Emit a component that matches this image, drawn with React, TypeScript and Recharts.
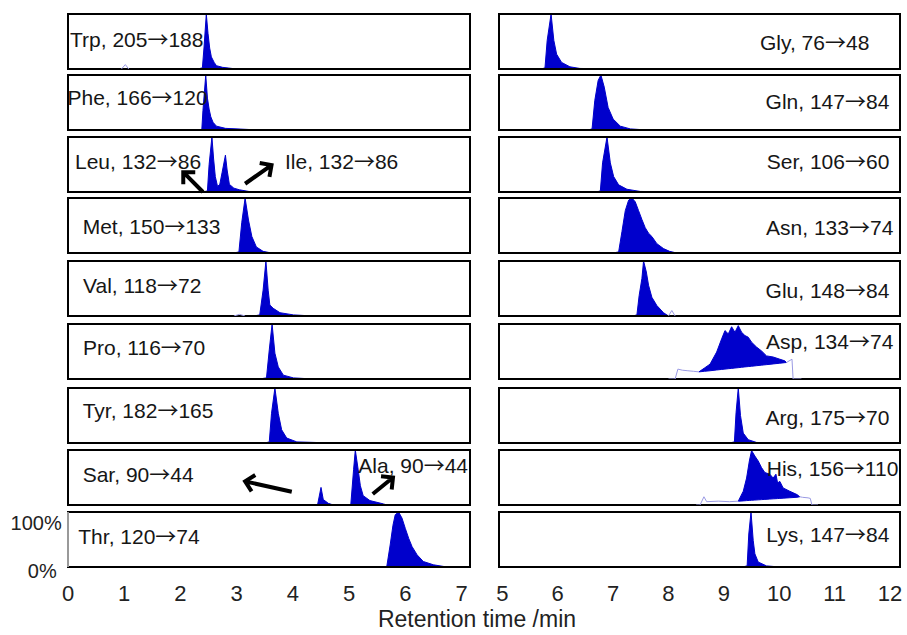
import React from 'react';
import { ComposedChart, Area, Line, XAxis, YAxis, ReferenceArea, ReferenceLine } from 'recharts';

type Pt = number[];

// ---------- left column (retention time 0–7 min), [time, % intensity] ----------
const trpPeak: Pt[] = [[2.30,0],[2.39,2],[2.42,40],[2.46,100],[2.49,65],[2.52,38],[2.55,22],[2.60,12],[2.64,6],[2.75,3],[3.00,0]];
const trpTrace: Pt[] = [[0.95,0],[1.02,8],[1.08,0]];
const phePeak: Pt[] = [[2.30,0],[2.38,1],[2.40,35],[2.45,100],[2.48,58],[2.51,38],[2.54,24],[2.58,14],[2.64,7],[2.80,3],[3.40,0]];
const leuIlePeak: Pt[] = [[2.40,0],[2.48,2],[2.51,50],[2.56,100],[2.59,60],[2.62,28],[2.66,10],[2.70,14],[2.74,35],[2.80,67],[2.83,40],[2.87,14],[2.95,7],[3.05,4],[3.27,0]];
const metPeak: Pt[] = [[2.95,0],[3.04,2],[3.09,55],[3.15,100],[3.21,60],[3.27,30],[3.35,11],[3.47,3],[3.62,0]];
const valPeak: Pt[] = [[3.30,0],[3.41,2],[3.47,47],[3.52,100],[3.56,47],[3.59,20],[3.65,14],[3.77,6],[4.01,2],[4.36,0]];
const valTrace: Pt[] = [[2.95,0],[3.05,3],[3.15,0]];
const proPeak: Pt[] = [[3.40,0],[3.53,2],[3.58,53],[3.63,100],[3.68,47],[3.74,22],[3.83,7],[4.01,2],[4.36,0]];
const tyrPeak: Pt[] = [[3.50,0],[3.58,2],[3.62,54],[3.68,100],[3.74,54],[3.80,24],[3.89,9],[4.07,2],[4.71,0]];
const sarAlaPeak: Pt[] = [[4.35,0],[4.44,1],[4.50,32],[4.54,10],[4.63,3],[4.72,0],[4.95,0],[5.03,1],[5.08,65],[5.11,100],[5.16,65],[5.20,35],[5.25,17],[5.37,8],[5.61,2],[5.67,0]];
const thrPeak: Pt[] = [[5.55,0],[5.67,1],[5.73,40],[5.78,76],[5.82,95],[5.88,100],[5.94,89],[6.00,70],[6.06,52],[6.12,37],[6.21,22],[6.32,10],[6.50,4],[6.74,0]];

// ---------- right column (retention time 5–12 min) ----------
const glyPeak: Pt[] = [[5.70,0],[5.77,2],[5.81,52],[5.88,100],[5.93,52],[5.98,27],[6.07,12],[6.22,4],[6.40,1],[7.00,0]];
const glnPeak: Pt[] = [[6.55,0],[6.62,2],[6.67,54],[6.73,90],[6.78,100],[6.84,78],[6.91,41],[7.00,20],[7.13,7],[7.31,2],[7.61,0]];
const serPeak: Pt[] = [[6.70,0],[6.77,2],[6.81,53],[6.89,100],[6.95,53],[7.01,28],[7.10,13],[7.25,5],[7.49,1],[8.15,0]];
const asnPeak: Pt[] = [[7.00,0],[7.10,2],[7.16,39],[7.22,77],[7.28,96],[7.34,100],[7.40,93],[7.46,77],[7.52,61],[7.58,46],[7.64,36],[7.70,30],[7.79,17],[7.91,8],[8.02,3],[8.15,0]];
const gluPeak: Pt[] = [[7.35,0],[7.43,2],[7.47,37],[7.52,68],[7.55,100],[7.60,80],[7.64,56],[7.70,34],[7.79,19],[7.91,6],[8.00,0]];
const gluTrace: Pt[] = [[8.00,0],[8.06,10],[8.12,0]];
// [time, integration baseline, signal]
const aspBand: Pt[] = [[8.55,13,13],[8.65,14,20],[8.75,15,27],[8.87,16.4,49],[8.96,17.4,73],[9.02,18,88],[9.08,18.7,82],[9.14,19.3,95],[9.20,20,85],[9.26,20.6,97],[9.32,21.3,85],[9.38,22,79],[9.44,22.6,76],[9.50,23.2,67],[9.59,24.2,58],[9.68,25.2,51],[9.77,26.1,42],[9.89,27.4,40],[10.01,28.7,36],[10.10,29.7,33],[10.13,30,30]];
const aspTraceA: Pt[] = [[8.00,0],[8.12,0],[8.17,18],[8.25,16],[8.35,15],[8.45,14],[8.55,13]];
const aspTraceB: Pt[] = [[10.13,30],[10.23,36],[10.25,0],[10.40,0]];
const argPeak: Pt[] = [[9.10,0],[9.19,2],[9.22,55],[9.26,100],[9.30,50],[9.35,18],[9.44,6],[9.59,1],[9.89,0]];
const hisBand: Pt[] = [[9.26,7,7],[9.35,7.5,25],[9.41,8,49],[9.46,8.3,80],[9.50,8.6,99],[9.56,9,89],[9.62,9.4,80],[9.68,9.8,68],[9.74,10.2,59],[9.83,10.8,56],[9.89,11.2,49],[9.94,11.5,56],[9.97,11.7,40],[10.01,12,43],[10.07,12.4,31],[10.19,13.2,25],[10.32,14,19],[10.37,15,15]];
const hisTraceA: Pt[] = [[8.50,0],[8.57,0],[8.64,15],[8.69,6],[8.90,7],[9.10,6],[9.26,7]];
const hisTraceB: Pt[] = [[10.37,15],[10.42,14],[10.52,13],[10.56,12],[10.59,0],[10.70,0]];
const lysPeak: Pt[] = [[9.33,0],[9.42,2],[9.45,60],[9.49,100],[9.53,48],[9.56,24],[9.62,9],[9.77,2],[10.01,0]];

// ---------- labels ----------
const leftLabels: string[][] = [
  ['Trp, 205→188'], ['Phe, 166→120'], ['Leu, 132→86', 'Ile, 132→86'], ['Met, 150→133'],
  ['Val, 118→72'], ['Pro, 116→70'], ['Tyr, 182→165'], ['Sar, 90→44', 'Ala, 90→44'], ['Thr, 120→74'],
];
const rightLabels: string[] = [
  'Gly, 76→48', 'Gln, 147→84', 'Ser, 106→60', 'Asn, 133→74', 'Glu, 148→84',
  'Asp, 134→74', 'Arg, 175→70', 'His, 156→110', 'Lys, 147→84',
];
const leftTicks = [0, 1, 2, 3, 4, 5, 6, 7];
const rightTicks = [5, 6, 7, 8, 9, 10, 11, 12];
const yTicks = [0, 100];
const xTitle = 'Retention time /min';

// annotation arrows [tail, tip] in data coordinates
const leuIleArrows: Pt[][] = [[[2.40, 0], [2.05, 36]], [[3.15, 15], [3.62, 49]]];
const sarAlaArrows: Pt[][] = [[[3.98, 24], [3.15, 43]], [[5.42, 20], [5.78, 50]]];

// ---------- layout ----------
const FONT = '"Liberation Sans", Arial, sans-serif';
const ARROW_FONT = '"Noto Sans CJK SC", "Liberation Sans", sans-serif';
const BLUE = '#0000cc';
const TRACE = '#9a9ae4';
const PANEL_TOPS = [13, 74, 136, 197, 260, 323, 387, 449, 511];
const PANEL_H = 57;
const LEFT_X = 67, LEFT_W = 404;
const RIGHT_X = 498, RIGHT_W = 403;
const LEFT_DOMAIN: [number, number] = [0, 7.15];
const RIGHT_DOMAIN: [number, number] = [4.94, 12.18];
const Y_AXIS_W = 60;
const X_AXIS_H = 40;
// label anchor points (left edge / right edge, cap-centre y)
const leftLabelPos: Pt[][] = [
  [[70, 39.5]], [[67.5, 97]], [[75, 161], [285, 161]], [[82.7, 226]], [[83, 285.5]],
  [[83, 347.5]], [[82.7, 410]], [[82.7, 474.5], [358.3, 465.5]], [[78.3, 536.3]],
];
const rightLabelPos: Pt[] = [
  [869.3, 42.5], [889.3, 101], [889.3, 161], [893.3, 227], [889.3, 290],
  [893.3, 341.7], [889.3, 417], [898.3, 468.3], [889.3, 534],
];

interface PanelSpec {
  peak?: Pt[];
  band?: Pt[];
  traces?: Pt[][];
  arrows?: Pt[][];
}

const leftPanels: PanelSpec[] = [
  { peak: trpPeak, traces: [trpTrace] },
  { peak: phePeak },
  { peak: leuIlePeak, arrows: leuIleArrows },
  { peak: metPeak },
  { peak: valPeak, traces: [valTrace] },
  { peak: proPeak },
  { peak: tyrPeak },
  { peak: sarAlaPeak, arrows: sarAlaArrows },
  { peak: thrPeak },
];
const rightPanels: PanelSpec[] = [
  { peak: glyPeak },
  { peak: glnPeak },
  { peak: serPeak },
  { peak: asnPeak },
  { peak: gluPeak, traces: [gluTrace] },
  { band: aspBand, traces: [aspTraceA, aspTraceB] },
  { peak: argPeak },
  { band: hisBand, traces: [hisTraceA, hisTraceB] },
  { peak: lysPeak },
];

const toRows = (pts: Pt[]) => pts.map(([t, v]) => ({ t, v }));
const toBand = (pts: Pt[]) => pts.map(([t, lo, hi]) => ({ t, band: [lo, hi] }));

const ArrowShape = (props: any) => {
  const { x1, y1, x2, y2 } = props;
  const a = Math.atan2(y2 - y1, x2 - x1);
  const L = 12, s = 0.78;
  const hx1 = x2 - L * Math.cos(a - s), hy1 = y2 - L * Math.sin(a - s);
  const hx2 = x2 - L * Math.cos(a + s), hy2 = y2 - L * Math.sin(a + s);
  return (
    <path
      d={`M${x1},${y1}L${x2},${y2}M${hx1},${hy1}L${x2},${y2}L${hx2},${hy2}`}
      stroke="#000" strokeWidth={4} fill="none" strokeLinejoin="miter"
    />
  );
};

const PctTick = (props: any) => {
  const { x, y, payload } = props;
  const top = payload.value === 100;
  return (
    <text x={x + (top ? 1.7 : -3.3)} y={y + (top ? 17.7 : 11)} textAnchor="end"
      fontSize={20} fill="#222" fontFamily={FONT}>
      {payload.value}%
    </text>
  );
};

function Panel({ spec, domain, ticks, width, showX, showY }: {
  spec: PanelSpec; domain: [number, number]; ticks: number[]; width: number; showX: boolean; showY: boolean;
}) {
  const h = PANEL_H + (showX ? X_AXIS_H : 0);
  const w = width + (showY ? Y_AXIS_W : 0);
  return (
    <ComposedChart width={w} height={h} margin={{ top: 1, right: 1, bottom: 1, left: 1 }}>
      <XAxis type="number" dataKey="t" domain={domain} allowDataOverflow hide={!showX}
        ticks={ticks} interval={0} axisLine={false} tickLine={false} tickSize={0} tickMargin={18}
        height={X_AXIS_H} tick={{ fontSize: 22, fill: '#222', fontFamily: FONT }} />
      <YAxis type="number" domain={[0, 100]} allowDataOverflow hide={!showY} width={Y_AXIS_W}
        ticks={yTicks} interval={0} tick={<PctTick />} tickLine={false}
        axisLine={{ stroke: '#999', strokeWidth: 2 }} />
      {(spec.traces || []).map((tr, i) => (
        <Line key={'tr' + i} data={toRows(tr)} dataKey="v" type="linear" stroke={TRACE}
          strokeWidth={1} dot={false} activeDot={false} isAnimationActive={false} />
      ))}
      {spec.peak && (
        <Area data={toRows(spec.peak)} dataKey="v" type="linear" stroke={BLUE} strokeWidth={1}
          fill={BLUE} fillOpacity={1} dot={false} activeDot={false} isAnimationActive={false} />
      )}
      {spec.band && (
        <Area data={toBand(spec.band)} dataKey="band" type="linear" stroke={BLUE} strokeWidth={1}
          fill={BLUE} fillOpacity={1} dot={false} activeDot={false} isAnimationActive={false} />
      )}
      <ReferenceArea x1={domain[0]} x2={domain[1]} y1={0} y2={100} fill="none" fillOpacity={0}
        stroke="#000" strokeWidth={2} ifOverflow="visible" />
      {(spec.arrows || []).map((ar, i) => (
        <ReferenceLine key={'ar' + i} segment={[{ x: ar[0][0], y: ar[0][1] }, { x: ar[1][0], y: ar[1][1] }]}
          ifOverflow="visible" shape={ArrowShape} />
      ))}
    </ComposedChart>
  );
}

const labelStyle: React.CSSProperties = {
  position: 'absolute', fontFamily: FONT, fontSize: 21, lineHeight: '21px', color: '#161616', whiteSpace: 'nowrap',
};

function LabelText({ txt }: { txt: string }) {
  const parts = txt.split('→');
  return (
    <>
      {parts.map((p, i) => (
        <React.Fragment key={i}>
          {i > 0 && <span style={{ fontFamily: ARROW_FONT, lineHeight: 0 }}>→</span>}
          {p}
        </React.Fragment>
      ))}
    </>
  );
}

export default function App() {
  return (
    <div style={{ position: 'absolute', left: 0, top: 0, width: 907, height: 635, background: '#fff', overflow: 'hidden' }}>
      <style>{'.recharts-surface{overflow:visible}'}</style>
      {leftPanels.map((spec, i) => {
        const last = i === leftPanels.length - 1;
        return (
          <div key={'L' + i} style={{ position: 'absolute', left: LEFT_X - (last ? Y_AXIS_W : 0), top: PANEL_TOPS[i] }}>
            <Panel spec={spec} domain={LEFT_DOMAIN} ticks={leftTicks} width={LEFT_W} showX={last} showY={last} />
          </div>
        );
      })}
      {rightPanels.map((spec, i) => {
        const last = i === rightPanels.length - 1;
        return (
          <div key={'R' + i} style={{ position: 'absolute', left: RIGHT_X, top: PANEL_TOPS[i] }}>
            <Panel spec={spec} domain={RIGHT_DOMAIN} ticks={rightTicks} width={RIGHT_W} showX={last} showY={false} />
          </div>
        );
      })}
      {leftLabels.map((group, i) => group.map((txt, j) => (
        <div key={'ll' + i + '-' + j} style={{ ...labelStyle, left: leftLabelPos[i][j][0], top: leftLabelPos[i][j][1] - 10.3 }}>
          <LabelText txt={txt} />
        </div>
      )))}
      {rightLabels.map((txt, i) => (
        <div key={'rl' + i} style={{ ...labelStyle, right: 907 - rightLabelPos[i][0], top: rightLabelPos[i][1] - 10.3, textAlign: 'right' }}>
          <LabelText txt={txt} />
        </div>
      ))}
      <div style={{ ...labelStyle, fontSize: 23, lineHeight: '23px', left: 0, width: 954, textAlign: 'center', top: 619 - 11.3, color: '#222' }}>{xTitle}</div>
    </div>
  );
}
